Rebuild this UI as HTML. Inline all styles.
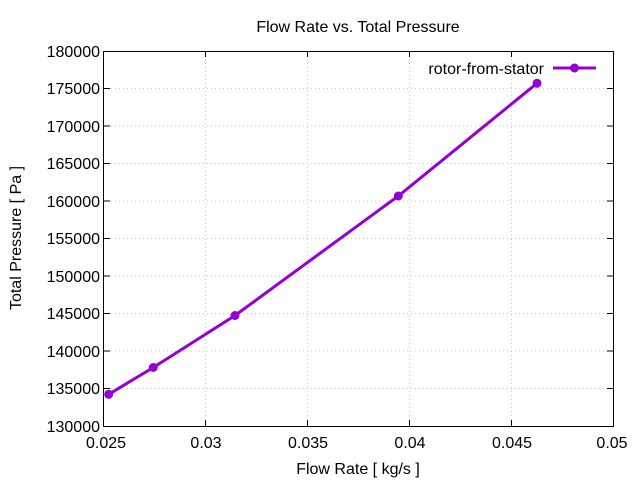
<!DOCTYPE html>
<html><head><style>body{margin:0;background:#fff}svg{display:block}text{font-family:"Liberation Sans",sans-serif;font-size:16px;fill:#000}</style></head><body>
<svg width="640" height="480" xmlns="http://www.w3.org/2000/svg">
<rect width="640" height="480" fill="#fff"/>
<g stroke="#c8c8c8" stroke-dasharray="1,3" stroke-width="1">
<line x1="205.5" y1="51" x2="205.5" y2="426"/><line x1="307.5" y1="51" x2="307.5" y2="426"/><line x1="409.5" y1="51" x2="409.5" y2="426"/><line x1="511.5" y1="51" x2="511.5" y2="426"/>
<line x1="103" y1="88.5" x2="613" y2="88.5"/><line x1="103" y1="126" x2="613" y2="126"/><line x1="103" y1="163.5" x2="613" y2="163.5"/><line x1="103" y1="201" x2="613" y2="201"/><line x1="103" y1="238.5" x2="613" y2="238.5"/><line x1="103" y1="276" x2="613" y2="276"/><line x1="103" y1="313.5" x2="613" y2="313.5"/><line x1="103" y1="351" x2="613" y2="351"/><line x1="103" y1="388.5" x2="613" y2="388.5"/>
</g>
<rect x="103.5" y="51.5" width="510" height="375" fill="none" stroke="#000"/>
<g stroke="#000">
<path d="M205.5 426v-6M307.5 426v-6M409.5 426v-6M511.5 426v-6M205.5 51v6M307.5 51v6M409.5 51v6M511.5 51v6"/>
<path d="M104 88.5h6M104 126h6M104 163.5h6M104 201h6M104 238.5h6M104 276h6M104 313.5h6M104 351h6M104 388.5h6M613 88.5h-6M613 126h-6M613 163.5h-6M613 201h-6M613 238.5h-6M613 276h-6M613 313.5h-6M613 351h-6M613 388.5h-6"/>
</g>
<g text-anchor="end">
<text x="100" y="57">180000</text><text x="100" y="94">175000</text><text x="100" y="132">170000</text><text x="100" y="169">165000</text><text x="100" y="207">160000</text><text x="100" y="244">155000</text><text x="100" y="282">150000</text><text x="100" y="319">145000</text><text x="100" y="357">140000</text><text x="100" y="394">135000</text><text x="100" y="432">130000</text>
</g>
<g text-anchor="middle">
<text x="106" y="448">0.025</text><text x="206" y="448">0.03</text><text x="308" y="448">0.035</text><text x="410" y="448">0.04</text><text x="512" y="448">0.045</text><text x="612" y="448">0.05</text>
<text x="358" y="474">Flow Rate [ kg/s ]</text>
<text x="358" y="32">Flow Rate vs. Total Pressure</text>
<text transform="translate(21,238) rotate(-90)">Total Pressure [ Pa ]</text>
</g>
<text x="544" y="74" text-anchor="end">rotor-from-stator</text>
<g stroke="#9400d3" stroke-width="3" fill="none"><path d="M553 68h43"/><path d="M108.7 394.3L153.3 367.5L235 315.5L398.3 196L537 83.3"/></g>
<g fill="#9400d3"><circle cx="574.5" cy="68" r="4.5"/><circle cx="108.7" cy="394.3" r="4.5"/><circle cx="153.3" cy="367.5" r="4.5"/><circle cx="235" cy="315.5" r="4.5"/><circle cx="398.3" cy="196" r="4.5"/><circle cx="537" cy="83.3" r="4.5"/></g>
</svg>
</body></html>
